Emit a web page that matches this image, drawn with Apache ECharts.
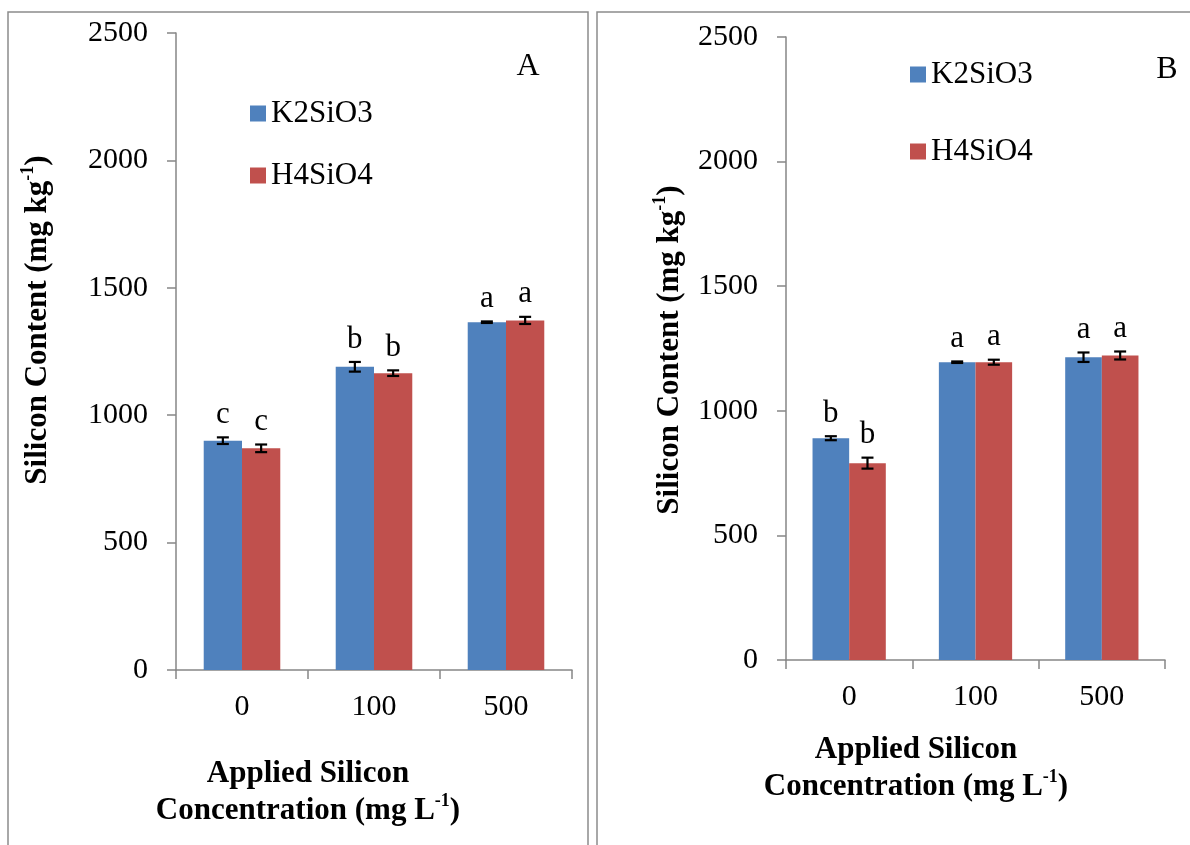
<!DOCTYPE html>
<html><head><meta charset="utf-8">
<script src="https://cdn.jsdelivr.net/npm/echarts@6/dist/echarts.min.js"></script>
<style>html,body{margin:0;padding:0;background:#fff}#c{width:1190px;height:845px}</style>
</head><body><div id="c"></div>
<script>
const categories = ['0', '100', '500'];
const yTicks = [0, 500, 1000, 1500, 2000, 2500];
const seriesNames = ['K2SiO3', 'H4SiO4'];
// Panel A
const A_K2 = [900, 1190, 1365];
const A_K2_err = [13, 19, 3];
const A_K2_letters = ['c', 'b', 'a'];
const A_H4 = [870, 1165, 1372];
const A_H4_err = [15, 11, 14];
const A_H4_letters = ['c', 'b', 'a'];
// Panel B
const B_K2 = [890, 1195, 1215];
const B_K2_err = [8, 3, 19];
const B_K2_letters = ['b', 'a', 'a'];
const B_H4 = [790, 1195, 1222];
const B_H4_err = [22, 10, 16];
const B_H4_letters = ['b', 'a', 'a'];

const BLUE = '#4F81BD', RED = '#C0504D', AXIS = '#868686';
const SERIF = '"Liberation Serif", "Times New Roman", serif';
const CAT_GAP = 0.42;

const chart = echarts.init(document.getElementById('c'));

function xAxisCfg(gi) {
  return {
    type: 'category', gridIndex: gi, data: categories,
    axisLine: { lineStyle: { color: AXIS, width: 1.5 } },
    axisTick: { show: true, length: 9, lineStyle: { color: AXIS, width: 1.5 } },
    axisLabel: { color: '#000', fontFamily: SERIF, fontSize: 30, margin: 22 }
  };
}
function yAxisCfg(gi) {
  return {
    type: 'value', gridIndex: gi, min: yTicks[0], max: yTicks[yTicks.length - 1], interval: 500,
    axisLine: { show: true, lineStyle: { color: AXIS, width: 1.5 } },
    axisTick: { show: true, length: 9, lineStyle: { color: AXIS, width: 1.5 } },
    splitLine: { show: false },
    axisLabel: { color: '#000', fontFamily: SERIF, fontSize: 30, margin: 28, formatter: v => String(v) }
  };
}
function barSeries(name, data, gi) {
  return {
    type: 'bar', name: name, data: data, xAxisIndex: gi, yAxisIndex: gi,
    barGap: '0%', barCategoryGap: (CAT_GAP * 100) + '%',
    itemStyle: { color: name === 'K2SiO3' ? BLUE : RED },
    emphasis: { disabled: true }
  };
}
function errSeries(name, vals, errs, letters, gi, side) {
  return {
    type: 'custom', name: name, xAxisIndex: gi, yAxisIndex: gi, z: 5,
    data: vals.map((v, i) => [i, v, errs[i]]),
    renderItem: function (params, api) {
      const i = api.value(0), v = api.value(1), e = api.value(2);
      const catW = api.size([1, 0])[0];
      const bw = catW * (1 - CAT_GAP) / 2;
      const hi = api.coord([i, v + e]);
      const lo = api.coord([i, v - e]);
      const x = hi[0] + side * bw / 2;
      const ls = { stroke: '#000', lineWidth: 2.2 };
      return {
        type: 'group', children: [
          { type: 'line', shape: { x1: x, y1: hi[1], x2: x, y2: lo[1] }, style: ls },
          { type: 'line', shape: { x1: x - 6, y1: hi[1], x2: x + 6, y2: hi[1] }, style: ls },
          { type: 'line', shape: { x1: x - 6, y1: lo[1], x2: x + 6, y2: lo[1] }, style: ls },
          { type: 'text', x: x, y: hi[1] - 7, style: { text: letters[params.dataIndex], fill: '#000', font: '31px ' + SERIF, align: 'center', verticalAlign: 'bottom' } }
        ]
      };
    }
  };
}
function legendCfg(left, top, gap) {
  return {
    data: seriesNames, orient: 'vertical', left: left, top: top, itemGap: gap,
    icon: 'rect', itemWidth: 16, itemHeight: 16, selectedMode: false,
    textStyle: { color: '#000', fontFamily: SERIF, fontSize: 31 }
  };
}
const titleRich = {
  b: { fontFamily: SERIF, fontWeight: 'bold', fontSize: 31, fill: '#000', lineHeight: 37 },
  s: { fontFamily: SERIF, fontWeight: 'bold', fontSize: 18, fill: '#000', lineHeight: 37, verticalAlign: 'top', padding: [0, 0, 14, 0] }
};
function xNameText(cx, cy) {
  return {
    type: 'text', x: cx, y: cy,
    style: {
      text: '{b|Applied Silicon}\n{b|Concentration (mg L}{s|-1}{b|)}',
      align: 'center', verticalAlign: 'middle', rich: titleRich
    }
  };
}
function yNameText(cx, cy) {
  return {
    type: 'text', x: cx, y: cy, rotation: Math.PI / 2,
    style: {
      text: '{b|Silicon Content (mg kg}{s|-1}{b|)}',
      align: 'center', verticalAlign: 'middle', rich: titleRich
    }
  };
}

chart.setOption({
  animation: false,
  backgroundColor: '#fff',
  grid: [
    { left: 176, top: 33, width: 396, height: 637 },
    { left: 786, top: 37, width: 379, height: 623 }
  ],
  xAxis: [xAxisCfg(0), xAxisCfg(1)],
  yAxis: [yAxisCfg(0), yAxisCfg(1)],
  legend: [legendCfg(245, 93, 31), legendCfg(905, 54, 46)],
  series: [
    barSeries('K2SiO3', A_K2, 0), barSeries('H4SiO4', A_H4, 0),
    barSeries('K2SiO3', B_K2, 1), barSeries('H4SiO4', B_H4, 1),
    errSeries('K2SiO3', A_K2, A_K2_err, A_K2_letters, 0, -1),
    errSeries('H4SiO4', A_H4, A_H4_err, A_H4_letters, 0, 1),
    errSeries('K2SiO3', B_K2, B_K2_err, B_K2_letters, 1, -1),
    errSeries('H4SiO4', B_H4, B_H4_err, B_H4_letters, 1, 1)
  ],
  graphic: [
    { type: 'rect', shape: { x: 8, y: 12, width: 580, height: 860 }, style: { fill: 'none', stroke: '#8c8c8c', lineWidth: 1.5 }, z: -1 },
    { type: 'rect', shape: { x: 597, y: 12, width: 610, height: 860 }, style: { fill: 'none', stroke: '#8c8c8c', lineWidth: 1.5 }, z: -1 },
    { type: 'text', x: 528, y: 67, style: { text: 'A', font: '32px ' + SERIF, fill: '#000', align: 'center', verticalAlign: 'middle' } },
    { type: 'text', x: 1167, y: 70, style: { text: 'B', font: '32px ' + SERIF, fill: '#000', align: 'center', verticalAlign: 'middle' } },
    yNameText(38, 320),
    yNameText(670, 350),
    xNameText(308, 792),
    xNameText(916, 768)
  ]
});
</script></body></html>
